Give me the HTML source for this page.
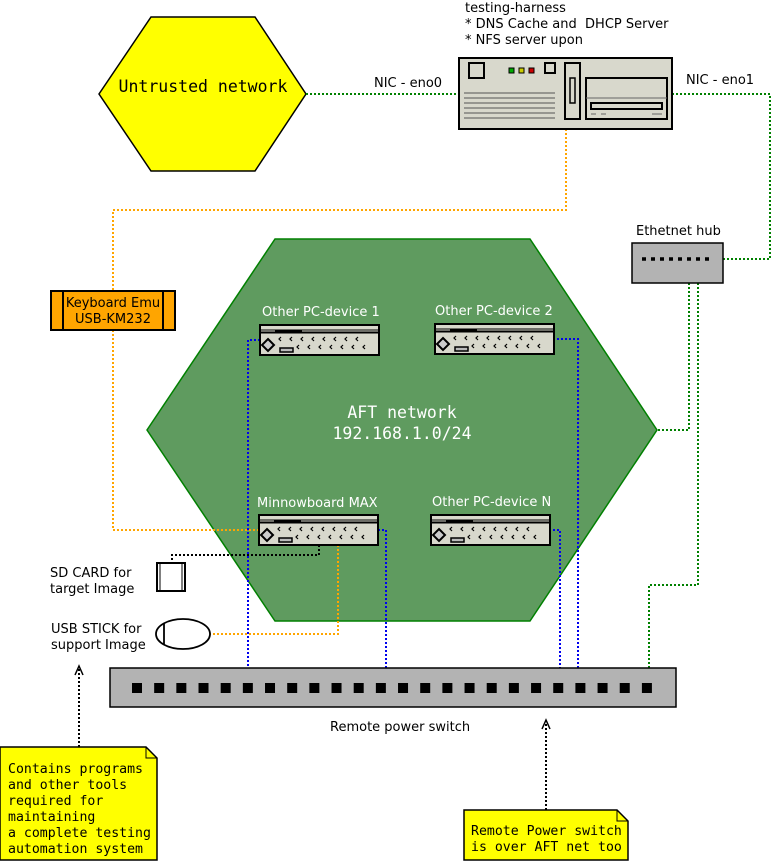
<!DOCTYPE html>
<html><head><meta charset="utf-8"><style>
html,body{margin:0;padding:0;background:#fff;}
svg{display:block;}
.s{font-family:"DejaVu Sans","Liberation Sans",sans-serif;font-size:13px;}
.m{font-family:"DejaVu Sans Mono","Liberation Mono",monospace;font-size:13.2px;}
.b{font-family:"DejaVu Sans Mono","Liberation Mono",monospace;font-size:16.5px;}
</style></head><body>
<svg width="771" height="862" viewBox="0 0 771 862" xmlns="http://www.w3.org/2000/svg">
<defs>
<g id="dev">
<rect x="0" y="0" width="119" height="30" fill="#d8d8cc" stroke="#000" stroke-width="2"/>
<line x1="0" y1="5" x2="119" y2="5" stroke="#000" stroke-width="1"/>
<line x1="0" y1="7.5" x2="119" y2="7.5" stroke="#000" stroke-width="2"/>
<line x1="15" y1="6" x2="42" y2="6" stroke="#000" stroke-width="1"/>
<path d="M8,14 L14,20 L8,26 L2,20 Z" fill="#ccc" stroke="#000" stroke-width="2"/>
<rect x="20" y="23" width="13" height="4" fill="#bbb" stroke="#000" stroke-width="1.5"/>
<g fill="none" stroke="#000" stroke-width="1.2">
<path d="M21,12 l-2,2 l2,2 M32,12 l-2,2 l2,2 M43,12 l-2,2 l2,2 M54,12 l-2,2 l2,2 M65,12 l-2,2 l2,2 M76,12 l-2,2 l2,2 M87,12 l-2,2 l2,2 M98,12 l-2,2 l2,2"/>
<path d="M39,20 l-2,2 l2,2 M50,20 l-2,2 l2,2 M61,20 l-2,2 l2,2 M72,20 l-2,2 l2,2 M83,20 l-2,2 l2,2 M94,20 l-2,2 l2,2 M105,20 l-2,2 l2,2"/>
</g>
</g>
</defs>

<polygon points="275,239 530,239 657,430 530,621 275,621 147,430" fill="#5f9b5f" stroke="#008000" stroke-width="1.5"/>
<text x="402" y="418" text-anchor="middle" class="b" fill="#fff">AFT network</text>
<text x="402" y="439" text-anchor="middle" class="b" fill="#fff">192.168.1.0/24</text>

<polygon points="151,17 255,17 306,94 255,171 151,171 99,94" fill="#ffff00" stroke="#000" stroke-width="1.5"/>
<text x="203" y="92" text-anchor="middle" class="b">Untrusted network</text>

<g fill="none" stroke-dasharray="2,2" stroke-width="2">
<path d="M306,94 H459" stroke="#008000"/>
<path d="M672,94 H770 V259 H710" stroke="#008000"/>
<path d="M689,283 V430 H656" stroke="#008000"/>
<path d="M698,283 V585 H649 V688" stroke="#008000"/>
<path d="M566,129 V210 H113 V291" stroke="#ffa500"/>
<path d="M113,330 V530 H259" stroke="#ffa500"/>
<path d="M338,545 V634 H210" stroke="#ffa500"/>
<path d="M319,545 V555 H172 V563" stroke="#000"/>
<path d="M260,340 H248 V688" stroke="#0000ee"/>
<path d="M553,339 H578 V688" stroke="#0000ee"/>
<path d="M378,530 H386 V688" stroke="#0000ee"/>
<path d="M549,530 H560 V688" stroke="#0000ee"/>
<path d="M79,747 V667" stroke="#000"/>
<path d="M546,810 V721" stroke="#000"/>
</g>
<path d="M75,675 L79,666 L83,675 M542,729 L546,720 L550,729" fill="none" stroke="#000" stroke-width="1.5"/>

<text x="465" y="12" class="s">testing-harness</text>
<text x="465" y="28" class="s">* DNS Cache and&#160; DHCP Server</text>
<text x="465" y="44" class="s">* NFS server upon</text>
<text x="374" y="87" class="s">NIC - eno0</text>
<text x="686" y="84" class="s">NIC - eno1</text>
<rect x="459" y="58" width="213" height="71" fill="#d8d8cc" stroke="#000" stroke-width="2"/>
<rect x="469" y="63" width="15" height="15" fill="#d8d8cc" stroke="#000" stroke-width="2"/>
<rect x="545" y="63" width="10" height="10" fill="#d8d8cc" stroke="#000" stroke-width="2"/>
<rect x="509" y="68" width="5" height="5" fill="#0a0" stroke="#000"/>
<rect x="519" y="68" width="5" height="5" fill="#cc0" stroke="#000"/>
<rect x="529" y="68" width="5" height="5" fill="#c00" stroke="#000"/>
<g stroke="#555" stroke-width="1"><path d="M464,93 H555 M464,98 H555 M464,103 H555 M464,108 H555 M464,113 H555 M464,118 H555"/></g>
<rect x="565" y="63" width="15" height="56" fill="#d8d8cc" stroke="#000" stroke-width="2"/>
<rect x="570" y="78" width="5" height="25" fill="none" stroke="#000" stroke-width="1.5"/>
<rect x="586" y="78" width="81" height="41" fill="#d8d8cc" stroke="#000" stroke-width="2"/>
<line x1="586" y1="98" x2="667" y2="98" stroke="#666"/>
<rect x="591" y="103" width="71" height="6" fill="#d8d8cc" stroke="#000" stroke-width="2"/>
<path d="M591,114 H596 M601,114 H606 M652,114 H662" stroke="#666"/>

<text x="636" y="235" class="s">Ethetnet hub</text>
<rect x="632" y="243" width="91" height="40" fill="#b3b3b3" stroke="#000" stroke-width="1.5"/>
<path d="M642,259 H711" stroke="#000" stroke-width="3.5" stroke-dasharray="4,5"/>

<rect x="51" y="291" width="124" height="39" fill="#ffa500" stroke="#000" stroke-width="2"/>
<path d="M63,291 V330 M163,291 V330" stroke="#000" stroke-width="2"/>
<text x="113" y="307" text-anchor="middle" class="s">Keyboard Emu</text>
<text x="113" y="323" text-anchor="middle" class="s">USB-KM232</text>

<text x="262" y="316" class="s" fill="#fff">Other PC-device 1</text>
<text x="435" y="315" class="s" fill="#fff">Other PC-device 2</text>
<text x="257" y="507" class="s" fill="#fff">Minnowboard MAX</text>
<text x="432" y="506" class="s" fill="#fff">Other PC-device N</text>
<use href="#dev" x="260" y="325"/>
<use href="#dev" x="435" y="324"/>
<use href="#dev" x="259" y="515"/>
<use href="#dev" x="431" y="515"/>

<text x="50" y="577" class="s">SD CARD for</text>
<text x="50" y="593" class="s">target Image</text>
<rect x="157" y="563" width="28" height="28" fill="#fff" stroke="#000" stroke-width="2"/>
<path d="M160,563 V591 M182,563 V591" stroke="#000" stroke-width="1"/>
<text x="51" y="633" class="s">USB STICK for</text>
<text x="51" y="649" class="s">support Image</text>
<ellipse cx="183" cy="634" rx="27" ry="15" fill="#fff" stroke="#000" stroke-width="1.8"/>
<line x1="164" y1="623" x2="164" y2="645" stroke="#000" stroke-width="1.8"/>

<rect x="110" y="668" width="566" height="39" fill="#b3b3b3" stroke="#000" stroke-width="1.5"/>
<path d="M132,688 H655" stroke="#000" stroke-width="10" stroke-dasharray="10,12.17"/>
<text x="330" y="731" class="s">Remote power switch</text>

<path d="M0,747 H146 L157,758 V860 H0 Z" fill="#ffff00" stroke="#000" stroke-width="1.5"/>
<path d="M146,747 V758 H157" fill="none" stroke="#000"/>
<g class="m">
<text x="8" y="773">Contains programs</text>
<text x="8" y="789">and other tools</text>
<text x="8" y="805">required for</text>
<text x="8" y="821">maintaining</text>
<text x="8" y="837">a complete testing</text>
<text x="8" y="853">automation system</text>
</g>
<path d="M464,810 H617 L628,821 V860 H464 Z" fill="#ffff00" stroke="#000" stroke-width="1.5"/>
<path d="M617,810 V821 H628" fill="none" stroke="#000"/>
<text x="471" y="835" class="m">Remote Power switch</text>
<text x="471" y="851" class="m">is over AFT net too</text>
</svg>
</body></html>
